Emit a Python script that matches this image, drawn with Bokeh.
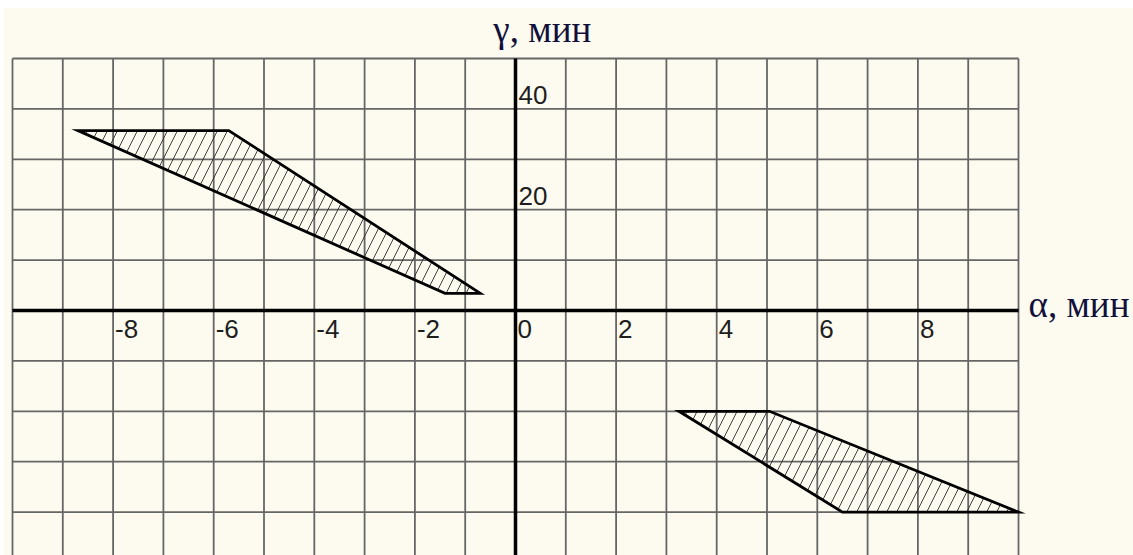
from bokeh.plotting import figure
from bokeh.models import ColumnDataSource
from bokeh.core.properties import value
from bokeh.embed import file_html
from bokeh.resources import INLINE

# Extent of the drawn grid (alpha in minutes, gamma in minutes)
ALPHA_MIN, ALPHA_MAX = -10, 10
GAMMA_MIN, GAMMA_MAX = -48.6, 50

# Axis ticks and their labels
alpha_ticks = [-8, -6, -4, -2, 0, 2, 4, 6, 8]
alpha_tick_labels = ["-8", "-6", "-4", "-2", "0", "2", "4", "6", "8"]
gamma_ticks = [20, 40]
gamma_tick_labels = ["20", "40"]

# Grid lines: one per minute of alpha, one per 10 minutes of gamma
alpha_grid = [-10, -9, -8, -7, -6, -5, -4, -3, -2, -1, 1, 2, 3, 4, 5, 6, 7, 8, 9, 10]
gamma_grid = [-40, -30, -20, -10, 10, 20, 30, 40, 50]

# Hatched regions (alpha, gamma vertices)
upper_alpha = [-8.7, -5.7, -0.7, -1.4]
upper_gamma = [35.7, 35.7, 3.4, 3.4]
lower_alpha = [3.25, 5.05, 10.0, 6.5]
lower_gamma = [-20.0, -20.0, -40.0, -40.0]

CREAM = "#fdfbf0"
GRID = "#666666"

# Canvas size and pixel scale; the frame fills the whole canvas so the
# axis captions placed outside the grid are not clipped.
W, H = 1130, 548
PX_PER_ALPHA = 50.3
PX_PER_GAMMA = 5.04
PAD_LEFT, PAD_TOP = 9, 51
x_start = ALPHA_MIN - PAD_LEFT / PX_PER_ALPHA
x_end = x_start + W / PX_PER_ALPHA
y_end = GAMMA_MAX + PAD_TOP / PX_PER_GAMMA
y_start = y_end - H / PX_PER_GAMMA

p = figure(
    width=W, height=H,
    x_range=(x_start, x_end), y_range=(y_start, y_end),
    x_axis_type=None, y_axis_type=None,
    toolbar_location=None, output_backend="svg",
    min_border=0,
    background_fill_color=CREAM, border_fill_color=CREAM,
    outline_line_color=None,
)
p.margin = (7, 0, 0, 3)

# Grid
p.segment(x0=alpha_grid, y0=[GAMMA_MIN] * len(alpha_grid),
          x1=alpha_grid, y1=[GAMMA_MAX] * len(alpha_grid),
          line_color=GRID, line_width=1.8)
p.segment(x0=[ALPHA_MIN] * len(gamma_grid), y0=gamma_grid,
          x1=[ALPHA_MAX] * len(gamma_grid), y1=gamma_grid,
          line_color=GRID, line_width=1.8)

# Coordinate axes through the origin
p.segment(x0=[0, ALPHA_MIN], y0=[GAMMA_MIN, 0], x1=[0, ALPHA_MAX], y1=[GAMMA_MAX, 0],
          line_color="black", line_width=3.5)

hatch_style = dict(fill_color=None, hatch_pattern="/", hatch_color="#2a2a2a",
                   hatch_weight=0.9, hatch_scale=20,
                   line_color="black", line_width=2.8, line_join="miter")
p.patch(upper_alpha, upper_gamma, **hatch_style)
p.patch(lower_alpha, lower_gamma, **hatch_style)

# Tick labels sit just right of their grid line
xsrc = ColumnDataSource(dict(x=alpha_ticks, y=[0] * len(alpha_ticks), t=alpha_tick_labels))
p.text("x", "y", text="t", source=xsrc, x_offset=2, y_offset=18,
       text_align="left", text_baseline="alphabetic",
       text_font=value("Liberation Sans"), text_font_size="26px", text_color="#1e1e1e")
ysrc = ColumnDataSource(dict(x=[0] * len(gamma_ticks), y=gamma_ticks, t=gamma_tick_labels))
p.text("x", "y", text="t", source=ysrc, x_offset=3, y_offset=-14,
       text_align="left", text_baseline="alphabetic",
       text_font=value("Liberation Sans"), text_font_size="26px", text_color="#1e1e1e")

# Axis captions
p.text(x=[-0.44], y=[53.2], text=["γ, мин"], y_offset=-13, text_align="left",
       text_baseline="alphabetic", text_font=value("Liberation Serif"),
       text_font_size="37px", text_color="#10103a")
p.text(x=[10.2], y=[-1.4], text=["α, мин"], y_offset=-13, text_align="left",
       text_baseline="alphabetic", text_font=value("Liberation Serif"),
       text_font_size="37px", text_color="#10103a")

open("out.html", "w").write(file_html(p, INLINE))
